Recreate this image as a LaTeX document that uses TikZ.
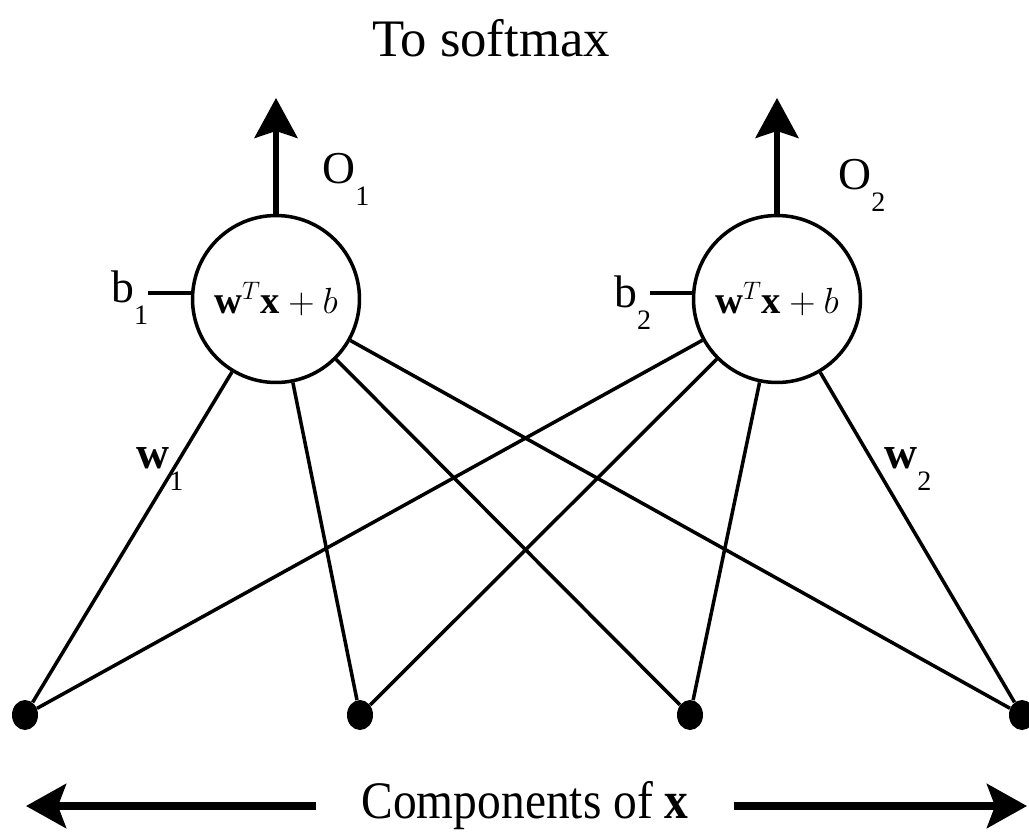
\documentclass[tikz,border=0pt]{standalone}
\usepackage{fontspec}
\setmainfont{Liberation Serif}
\usepackage{amsmath}
\usetikzlibrary{positioning,arrows.meta,shapes.geometric}

\newcommand{\lsub}[1]{\raisebox{-0.5em}{\fontsize{16}{16}\selectfont #1}}

\begin{document}
\begin{tikzpicture}[x=0.02cm, y=-0.02cm,
  every node/.style={font=\fontsize{26}{30}\selectfont, inner sep=0pt},
  neuron/.style={draw, circle, line width=2pt, minimum size=3.34cm, font=\fontsize{22}{26}\selectfont},
  dot/.style={fill, ellipse, minimum width=0.52cm, minimum height=0.6cm},
  wire/.style={line width=2pt},
  outarrow/.style={line width=3pt, -{Stealth[length=0.8cm, width=0.86cm, inset=0.14cm]}},
  bigarrow/.style={line width=4pt, -{Stealth[length=0.8cm, width=0.88cm, inset=0.16cm]}}]
\useasboundingbox (0,0) rectangle (1029,832);

% output neurons
\node[neuron] (n1) at (276,299) {$\mathbf{w}^T\mathbf{x}+b$};
\node[neuron] (n2) at (777,299) {$\mathbf{w}^T\mathbf{x}+b$};

% inputs
\node[dot] (x1) at (25,715) {};
\node[dot] (x2) at (360,715) {};
\node[dot] (x3) at (690,715) {};
\node[dot] (x4) at (1022,715) {};
\foreach \n in {n1,n2} \foreach \i in {1,...,4} \draw[wire] (\n) -- (x\i);

% biases
\coordinate (bias1) at (148,293);
\coordinate (bias2) at (650,293);
\draw[wire] (bias1) -- (n1.west |- bias1);
\draw[wire] (bias2) -- (n2.west |- bias2);
\node[anchor=base west] (b1) at (111,302) {b\lsub{1}};
\node[anchor=base west] (b2) at (614,307) {b\lsub{2}};

% outputs
\coordinate (top1) at (276,98);
\coordinate (top2) at (777,98);
\draw[outarrow] (n1) -- (top1);
\draw[outarrow] (n2) -- (top2);
\node[anchor=base west] (o1) at (322,183) {O\lsub{1}};
\node[anchor=base west] (o2) at (838,189) {O\lsub{2}};
\node[anchor=base] (soft) at (491,56) {\fontsize{30}{34}\selectfont To softmax};

% weights
\node[anchor=base west] (w1) at (136,468) {\textbf{w}\lsub{1}};
\node[anchor=base west] (w2) at (884,468) {\textbf{w}\lsub{2}};

% components
\node[inner xsep=0.9cm] (comp) at (525,806) {\scalebox{0.9}[1]{\fontsize{30}{34}\selectfont Components of \textbf{x}}};
\coordinate (leftend) at (26,806);
\coordinate (rightend) at (1027,806);
\draw[bigarrow] (comp) -- (leftend);
\draw[bigarrow] (comp) -- (rightend);
\end{tikzpicture}
\end{document}
